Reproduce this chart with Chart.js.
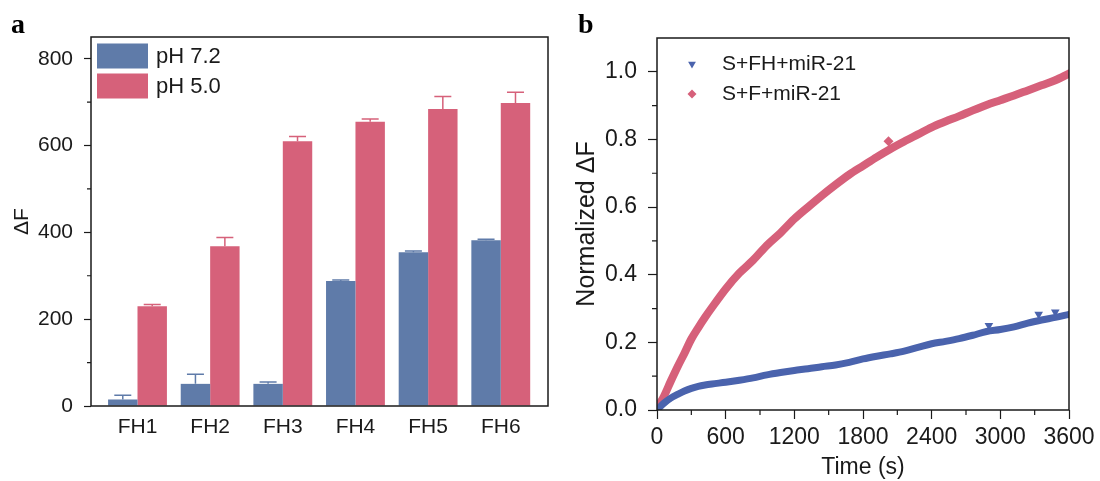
<!DOCTYPE html>
<html>
<head>
<meta charset="utf-8">
<script src="https://cdn.jsdelivr.net/npm/chart.js@4.4.1/dist/chart.umd.min.js"></script>
<style>
  html, body { margin: 0; padding: 0; background: #fff; }
  #wrap { position: relative; width: 1100px; height: 481px; overflow: hidden; }
  .panel { position: absolute; top: 0; height: 481px; }
  .tag { position: absolute; font-family: "Liberation Serif", "DejaVu Serif", serif; font-weight: bold; font-size: 28px; line-height: 1; color: #000; }
</style>
</head>
<body>
<div id="wrap">
  <div class="panel" style="left:0;width:560px"><canvas id="barChart" width="560" height="481"></canvas></div>
  <div class="panel" style="left:560px;width:540px"><canvas id="kineticsChart" width="540" height="481"></canvas></div>
  <div class="tag" style="left:11px;top:10px">a</div>
  <div class="tag" style="left:578px;top:10px">b</div>
</div>
<script>
// Panel a: fluorescence change for each FH probe at two pH values
const categories = ['FH1', 'FH2', 'FH3', 'FH4', 'FH5', 'FH6'];
const ph72 = [15, 51, 51, 288, 354, 382];
const ph72Err = [10, 22, 4, 2, 3, 2];
const ph50 = [230, 368, 610, 655, 684, 698];
const ph50Err = [4, 20, 11, 6, 29, 25];
const yTicksA = [0, 200, 400, 600, 800];
const yMinorA = [100, 300, 500, 700];

// Panel b: normalized kinetics
const timeS = [0, 60, 120, 180, 240, 300, 360, 420, 480, 600, 720, 840, 960, 1080, 1200, 1320, 1440,
  1560, 1680, 1800, 1920, 2040, 2160, 2280, 2400, 2520, 2640, 2760, 2880, 3000, 3120, 3240, 3360, 3480, 3600];
const fhSignal = [0, 0.02, 0.035, 0.046, 0.056, 0.064, 0.07, 0.074, 0.077, 0.082, 0.088, 0.095, 0.104, 0.111,
  0.117, 0.122, 0.128, 0.133, 0.141, 0.151, 0.159, 0.166, 0.174, 0.185, 0.196, 0.203, 0.211, 0.221, 0.232,
  0.238, 0.246, 0.257, 0.266, 0.274, 0.283];
const fSignal = [0.005, 0.04, 0.085, 0.128, 0.168, 0.21, 0.243, 0.274, 0.303, 0.358, 0.405, 0.443, 0.487, 0.524,
  0.565, 0.6, 0.634, 0.666, 0.696, 0.722, 0.748, 0.772, 0.794, 0.815, 0.836, 0.853, 0.869, 0.886, 0.902,
  0.916, 0.93, 0.945, 0.96, 0.975, 0.995];
// a few loose markers that sit off the main band
const fhStrayTime = [2900, 3335, 3480];
const fhStrayValue = [0.25, 0.283, 0.29];
const fStrayTime = [2023];
const fStrayValue = [0.795];
const xTicksB = [0, 600, 1200, 1800, 2400, 3000, 3600];
const xMinorB = [300, 900, 1500, 2100, 2700, 3300];
const yTicksB = [0, 0.2, 0.4, 0.6, 0.8, 1.0];
const yMinorB = [0.1, 0.3, 0.5, 0.7, 0.9];

const FONT = "'Liberation Sans', Arial, sans-serif";
const INK = '#1a1a1a';

// frame round the plot area plus short minor ticks outside it
const framePlugin = {
  id: 'frame',
  afterDatasetsDraw(chart, args, opts) {
    const { ctx, chartArea: a, scales } = chart;
    ctx.save();
    ctx.strokeStyle = INK;
    ctx.lineWidth = 1.5;
    ctx.strokeRect(a.left, a.top, a.right - a.left, a.bottom - a.top);
    ctx.lineWidth = 1.2;
    ctx.beginPath();
    (opts.yMinor || []).forEach(v => {
      const y = scales.y.getPixelForValue(v);
      ctx.moveTo(a.left, y);
      ctx.lineTo(a.left - opts.minorLen, y);
    });
    (opts.xMinor || []).forEach(v => {
      const x = scales.x.getPixelForValue(v);
      ctx.moveTo(x, a.bottom);
      ctx.lineTo(x, a.bottom + opts.minorLen);
    });
    ctx.stroke();
    ctx.restore();
  }
};

// one-sided error bars on top of each bar
const errorBarPlugin = {
  id: 'errorBars',
  afterDatasetsDraw(chart) {
    const { ctx, scales } = chart;
    ctx.save();
    chart.data.datasets.forEach((ds, i) => {
      const meta = chart.getDatasetMeta(i);
      ctx.strokeStyle = ds.backgroundColor;
      ctx.lineWidth = 1.5;
      meta.data.forEach((bar, j) => {
        const top = scales.y.getPixelForValue(ds.data[j].y + ds.errors[j]);
        ctx.beginPath();
        ctx.moveTo(bar.x, bar.y);
        ctx.lineTo(bar.x, top);
        ctx.moveTo(bar.x - 8.5, top);
        ctx.lineTo(bar.x + 8.5, top);
        ctx.stroke();
      });
    });
    ctx.restore();
  }
};

const boxLegendPlugin = {
  id: 'boxLegend',
  afterDraw(chart) {
    const { ctx, chartArea: a } = chart;
    ctx.save();
    ctx.font = '22px ' + FONT;
    ctx.textBaseline = 'middle';
    chart.data.datasets.forEach((ds, i) => {
      const x = a.left + 6, y = a.top + 6.5 + i * 30;
      ctx.fillStyle = ds.backgroundColor;
      ctx.fillRect(x, y, 51, 25);
      ctx.fillStyle = INK;
      ctx.fillText(ds.label, a.left + 65, y + 13);
    });
    ctx.restore();
  }
};

const markerLegendPlugin = {
  id: 'markerLegend',
  afterDraw(chart) {
    const { ctx, chartArea: a } = chart;
    ctx.save();
    ctx.font = '21px ' + FONT;
    ctx.textBaseline = 'middle';
    chart.data.datasets.filter(ds => !ds.stray).forEach((ds, i) => {
      const y = a.top + 26 + i * 30;
      ctx.fillStyle = ds.borderColor;
      ctx.strokeStyle = ds.borderColor;
      Chart.helpers.drawPoint(ctx, { pointStyle: ds.pointStyle, rotation: ds.rotation, radius: 4.5, borderWidth: 0 }, a.left + 35, y);
      ctx.fillStyle = INK;
      ctx.fillText(ds.label, a.left + 65, y);
    });
    ctx.restore();
  }
};

// ---------- panel a ----------
const BLUE_A = '#5f7ba9';
const PINK_A = '#d6617a';

new Chart(document.getElementById('barChart'), {
  type: 'bar',
  data: {
    datasets: [
      { label: 'pH 7.2', data: ph72.map((v, i) => ({ x: i + 1, y: v })), errors: ph72Err, backgroundColor: BLUE_A },
      { label: 'pH 5.0', data: ph50.map((v, i) => ({ x: i + 1, y: v })), errors: ph50Err, backgroundColor: PINK_A }
    ]
  },
  options: {
    responsive: false,
    animation: false,
    categoryPercentage: 0.81,
    barPercentage: 1.0,
    layout: { padding: { left: 0, right: 12, top: 37, bottom: 0 } },
    plugins: {
      legend: { display: false },
      tooltip: { enabled: false },
      frame: { yMinor: yMinorA, minorLen: 4 }
    },
    scales: {
      x: {
        type: 'linear',
        offset: false,
        min: 0.36,
        max: 6.65,
        afterBuildTicks: s => { s.ticks = categories.map((c, i) => ({ value: i + 1 })); },
        afterFit: s => { s.height = 75; },
        grid: { display: false, drawTicks: false, offset: false },
        border: { display: false },
        ticks: { callback: v => categories[v - 1], color: INK, font: { family: FONT, size: 21 }, padding: 9, maxRotation: 0 }
      },
      y: {
        min: 0,
        max: 850,
        afterBuildTicks: s => { s.ticks = yTicksA.map(v => ({ value: v })); },
        afterFit: s => { s.width = 91; },
        grid: { drawOnChartArea: false, tickLength: 7, tickColor: INK, tickWidth: 1.2 },
        border: { display: false },
        ticks: { color: INK, font: { family: FONT, size: 21 }, padding: 11 },
        title: { display: true, text: 'ΔF', color: INK, font: { family: FONT, size: 21 }, padding: { top: 10 } }
      }
    }
  },
  plugins: [errorBarPlugin, framePlugin, boxLegendPlugin]
});

// ---------- panel b ----------
const BLUE_B = '#4a63ad';
const RED_B = '#d6607a';

new Chart(document.getElementById('kineticsChart'), {
  type: 'scatter',
  data: {
    datasets: [
      {
        label: 'S+FH+miR-21', data: timeS.map((t, i) => ({ x: t, y: fhSignal[i] })),
        showLine: true, borderColor: BLUE_B, backgroundColor: BLUE_B, borderWidth: 7,
        pointRadius: 0, pointStyle: 'triangle', rotation: 180, cubicInterpolationMode: 'monotone',
        borderCapStyle: 'round', borderJoinStyle: 'round'
      },
      {
        label: 'S+F+miR-21', data: timeS.map((t, i) => ({ x: t, y: fSignal[i] })),
        showLine: true, borderColor: RED_B, backgroundColor: RED_B, borderWidth: 8,
        pointRadius: 0, pointStyle: 'rectRot', rotation: 0, cubicInterpolationMode: 'monotone',
        borderCapStyle: 'round', borderJoinStyle: 'round'
      },
      {
        stray: true, data: fhStrayTime.map((t, i) => ({ x: t, y: fhStrayValue[i] })),
        backgroundColor: BLUE_B, borderWidth: 0, pointStyle: 'triangle', rotation: 180, pointRadius: 5
      },
      {
        stray: true, data: fStrayTime.map((t, i) => ({ x: t, y: fStrayValue[i] })),
        backgroundColor: RED_B, borderWidth: 0, pointStyle: 'rectRot', pointRadius: 5
      }
    ]
  },
  options: {
    responsive: false,
    animation: false,
    layout: { padding: { left: 0, right: 31, top: 38, bottom: 0 } },
    plugins: {
      legend: { display: false },
      tooltip: { enabled: false },
      frame: { yMinor: yMinorB, xMinor: xMinorB, minorLen: 5 }
    },
    scales: {
      x: {
        type: 'linear',
        min: 0,
        max: 3600,
        afterBuildTicks: s => { s.ticks = xTicksB.map(v => ({ value: v })); },
        afterFit: s => { s.height = 71; },
        grid: { drawOnChartArea: false, tickLength: 9, tickColor: INK, tickWidth: 1.2 },
        border: { display: false },
        ticks: { color: INK, font: { family: FONT, size: 23 }, padding: 5, maxRotation: 0, callback: v => String(v) },
        title: { display: true, text: 'Time (s)', color: INK, font: { family: FONT, size: 23 }, padding: { top: 0, bottom: 0 } }
      },
      y: {
        min: 0,
        max: 1.1,
        afterBuildTicks: s => { s.ticks = yTicksB.map(v => ({ value: v })); },
        afterFit: s => { s.width = 97; },
        grid: { drawOnChartArea: false, tickLength: 9, tickColor: INK, tickWidth: 1.2 },
        border: { display: false },
        ticks: { color: INK, font: { family: FONT, size: 23 }, padding: 11, callback: v => v.toFixed(1) },
        title: { display: true, text: 'Normalized ΔF', color: INK, font: { family: FONT, size: 25 }, padding: { top: 12 } }
      }
    }
  },
  plugins: [framePlugin, markerLegendPlugin]
});
</script>
</body>
</html>
